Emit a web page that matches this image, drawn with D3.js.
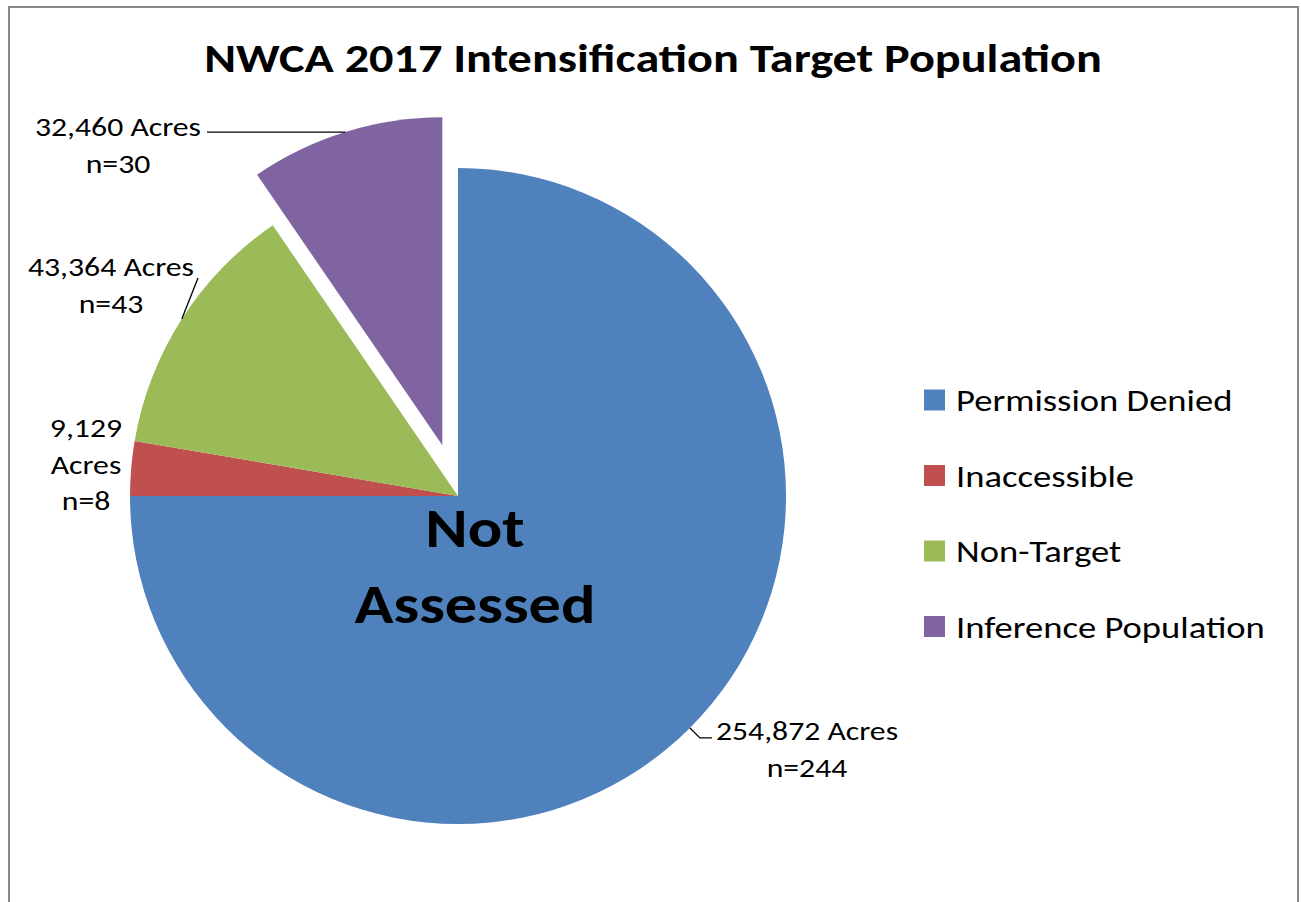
<!DOCTYPE html>
<html>
<head>
<meta charset="utf-8">
<script src="https://cdn.jsdelivr.net/npm/d3@7"></script>
<style>
  html, body { margin: 0; padding: 0; background: #fff; }
  svg { display: block; }
  text { font-family: Carlito, Calibri, Lato, "Open Sans", sans-serif; fill: #000; }
</style>
</head>
<body>
<svg id="chart" width="1301" height="902"></svg>
<script>
// Wetland sample-frame breakdown
const categories = ["Permission Denied", "Inaccessible", "Non-Target", "Inference Population"];
const acres = [254872, 9129, 43364, 32460];
const siteCounts = [244, 8, 43, 30];
const sliceColors = ["#4F81BD", "#C0504D", "#9BBB59", "#8064A2"];
const title = "NWCA 2017 Intensification Target Population";
const centerNote = ["Not", "Assessed"];

const svg = d3.select("#chart");
const W = 1301, H = 902;

// the fallback face is narrower than Calibri; widen glyphs to Calibri-like proportions
const WIDEN_BOLD = 1.17, WIDEN_REG = 1.22;
function widen(sel, k) {
  sel.each(function () {
    const len = this.getComputedTextLength();
    d3.select(this).attr("textLength", len * k).attr("lengthAdjust", "spacingAndGlyphs");
  });
  return sel;
}

// chart frame (bottom edge runs past the page)
svg.append("path")
  .attr("d", `M9,${H + 2} V7 H1298 V${H + 2}`)
  .attr("fill", "none").attr("stroke", "#888").attr("stroke-width", 2);

widen(svg.append("text")
  .attr("x", 653).attr("y", 72)
  .attr("text-anchor", "middle")
  .attr("font-weight", "bold")
  .attr("font-size", 40.5)
  .text(title), 1.19);

const cx = 458, cy = 496, R = 328;
const explodeIdx = 3, explodeDist = 53;

const data = categories.map((c, i) => ({ name: c, acres: acres[i], n: siteCounts[i], color: sliceColors[i] }));

const pie = d3.pie().value(d => d.acres).sort(null);
const arcs = pie(data);
const arc = d3.arc().innerRadius(0).outerRadius(R);
const edge = d3.arc().innerRadius(R).outerRadius(R);

const g = svg.append("g").attr("transform", `translate(${cx},${cy})`);

function offsetOf(a, i) {
  if (i !== explodeIdx) return [0, 0];
  const m = (a.startAngle + a.endAngle) / 2;
  return [Math.sin(m) * explodeDist, -Math.cos(m) * explodeDist];
}

g.selectAll("path.slice")
  .data(arcs)
  .join("path")
  .attr("class", "slice")
  .attr("d", arc)
  .attr("fill", d => d.data.color)
  .attr("transform", (d, i) => { const o = offsetOf(d, i); return `translate(${o[0]},${o[1]})`; });

// anchor point on the outer edge at each slice's mid angle (page coordinates)
function anchor(i) {
  const a = arcs[i];
  const o = offsetOf(a, i);
  const p = edge.centroid(a);
  return [cx + p[0] + o[0], cy + p[1] + o[1]];
}

const fmt = d3.format(",");
const labelSize = 26;

function lines(x, y0, rows) {
  rows.forEach((t, k) => {
    widen(svg.append("text")
      .attr("x", x).attr("y", y0 + k * 36.5)
      .attr("text-anchor", "middle")
      .attr("font-size", labelSize)
      .text(t), WIDEN_REG);
  });
}

const leader = d3.line();
function drawLeader(pts) {
  svg.append("path").attr("d", leader(pts))
    .attr("fill", "none").attr("stroke", "#000").attr("stroke-width", 1.3);
}

// Permission Denied
{
  const p = anchor(0);
  drawLeader([p, [p[0] + 10, p[1] + 10], [p[0] + 22, p[1] + 10]]);
  lines(807, 740, [`${fmt(data[0].acres)} Acres`, `n=${data[0].n}`]);
}
// Inaccessible
{
  const d = data[1];
  lines(86, 437, [fmt(d.acres), "Acres", `n=${d.n}`]);
}
// Non-Target
{
  const p = anchor(2);
  drawLeader([p, [198, 278]]);
  lines(111, 276, [`${fmt(data[2].acres)} Acres`, `n=${data[2].n}`]);
}
// Inference Population
{
  const p = anchor(3);
  drawLeader([p, [207, p[1]]]);
  lines(118, 136, [`${fmt(data[3].acres)} Acres`, `n=${data[3].n}`]);
}

// centre annotation
centerNote.forEach((t, k) => {
  widen(svg.append("text")
    .attr("x", 475).attr("y", 547 + k * 76)
    .attr("text-anchor", "middle")
    .attr("font-weight", "bold")
    .attr("font-size", 55)
    .text(t), WIDEN_BOLD);
});

// legend
const legend = svg.append("g").attr("transform", "translate(924,400)");
const item = legend.selectAll("g").data(data).join("g")
  .attr("transform", (d, i) => `translate(0,${i * 75.5})`);
item.append("rect")
  .attr("x", 0).attr("y", -10.5).attr("width", 21).attr("height", 21)
  .attr("fill", d => d.color);
widen(item.append("text")
  .attr("x", 32).attr("y", 11)
  .attr("font-size", 30)
  .text(d => d.name), WIDEN_REG);
</script>
</body>
</html>
